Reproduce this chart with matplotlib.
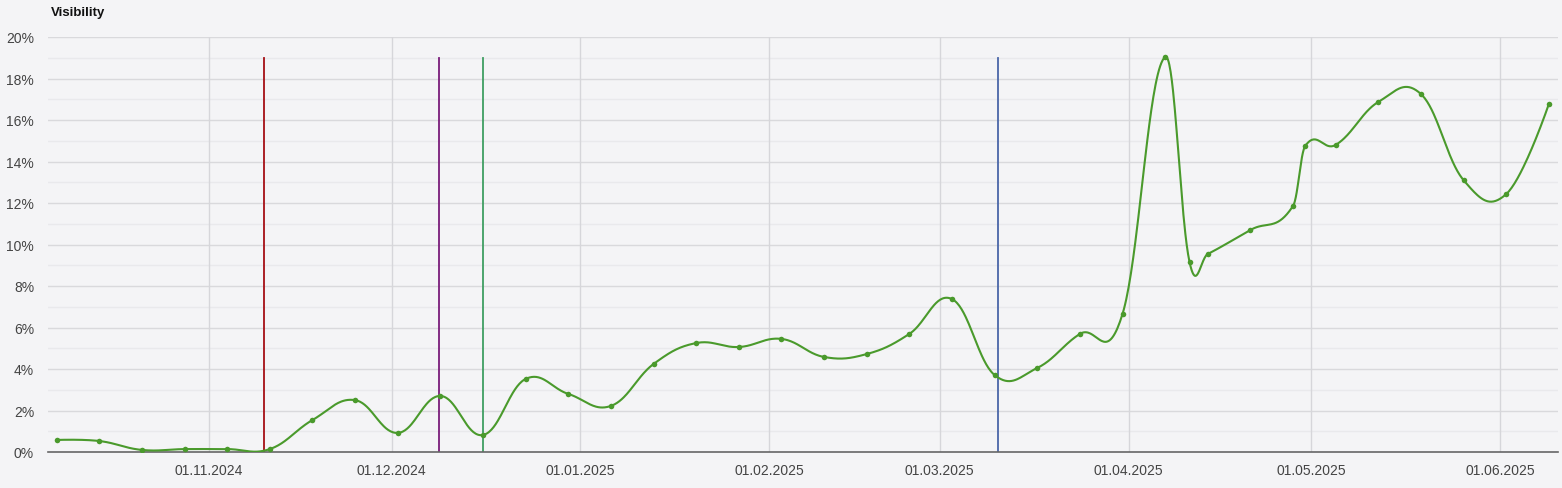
import numpy as np
import matplotlib
matplotlib.use("Agg")
import matplotlib.pyplot as plt
import matplotlib.dates as mdates
from datetime import datetime

dates = ["2024-10-07", "2024-10-14", "2024-10-21", "2024-10-28", "2024-11-04", "2024-11-11",
         "2024-11-18", "2024-11-25", "2024-12-02", "2024-12-09", "2024-12-16", "2024-12-23",
         "2024-12-30", "2025-01-06", "2025-01-13", "2025-01-20", "2025-01-27", "2025-02-03",
         "2025-02-10", "2025-02-17", "2025-02-24", "2025-03-03", "2025-03-10", "2025-03-17",
         "2025-03-24", "2025-03-31", "2025-04-07", "2025-04-11", "2025-04-14", "2025-04-21",
         "2025-04-28", "2025-04-30", "2025-05-05", "2025-05-12", "2025-05-19", "2025-05-26",
         "2025-06-02", "2025-06-09"]
visibility = [0.58, 0.53, 0.10, 0.14, 0.14, 0.14,
              1.54, 2.50, 0.92, 2.70, 0.82, 3.52,
              2.80, 2.22, 4.24, 5.25, 5.06, 5.45,
              4.58, 4.72, 5.69, 7.37, 3.71, 4.05,
              5.69, 6.65, 19.04, 9.16, 9.54, 10.70,
              11.86, 14.75, 14.80, 16.87, 17.25, 13.10,
              12.43, 16.77]
event_dates = ["2024-11-10 00:00", "2024-12-08 20:00", "2024-12-16 00:00", "2025-03-10 12:00"]
event_colors = ["#a50f15", "#7a1c7a", "#3f9e62", "#4a66a8"]
event_height = 19.0
month_ticks = ["2024-11-01", "2024-12-01", "2025-01-01", "2025-02-01", "2025-03-01",
               "2025-04-01", "2025-05-01", "2025-06-01"]

x = mdates.date2num([datetime.strptime(d, "%Y-%m-%d") for d in dates])
y = np.array(visibility)


def cardinal_spline(xs, ys, smoothing=1.5, n=40):
    px, py = [], []
    N = len(xs)
    ctrl = []
    for i in range(N):
        if i == 0 or i == N - 1:
            ctrl.append(None)
            continue
        lx, ly = xs[i - 1], ys[i - 1]
        nx, ny = xs[i + 1], ys[i + 1]
        X, Y = xs[i], ys[i]
        d = smoothing + 1
        lcx = (smoothing * X + lx) / d
        lcy = (smoothing * Y + ly) / d
        rcx = (smoothing * X + nx) / d
        rcy = (smoothing * Y + ny) / d
        if rcx != lcx:
            corr = ((rcy - lcy) * (rcx - X)) / (rcx - lcx) + Y - rcy
            lcy += corr
            rcy += corr
        ctrl.append(((lcx, lcy), (rcx, rcy)))
    t = np.linspace(0, 1, n)
    for i in range(N - 1):
        p0 = np.array([xs[i], ys[i]])
        p3 = np.array([xs[i + 1], ys[i + 1]])
        p1 = np.array(ctrl[i][1]) if ctrl[i] else p0
        p2 = np.array(ctrl[i + 1][0]) if ctrl[i + 1] else p3
        b = ((1 - t) ** 3)[:, None] * p0 + (3 * (1 - t) ** 2 * t)[:, None] * p1 \
            + (3 * (1 - t) * t ** 2)[:, None] * p2 + (t ** 3)[:, None] * p3
        px.extend(b[:, 0])
        py.extend(b[:, 1])
    return np.array(px), np.array(py)


plt.rcParams['font.family'] = ['Liberation Sans', 'DejaVu Sans']
fig = plt.figure(figsize=(15.62, 4.89), dpi=100)
bg = "#f4f4f6"
fig.patch.set_facecolor(bg)
ax = fig.add_axes([48 / 1562, 36 / 489, (1558 - 48) / 1562, (453 - 38) / 489])
ax.set_facecolor(bg)

xmin = mdates.date2num(datetime(2024, 10, 5, 14))
xmax = mdates.date2num(datetime(2025, 6, 10, 12))
ax.set_xlim(xmin, xmax)
ax.set_ylim(0, 20)

# grid
for v in np.arange(1, 20, 2):
    ax.axhline(v, color="#e9e9ec", lw=1.0, zorder=0)
for v in np.arange(2, 21, 2):
    ax.axhline(v, color="#d9d9dc", lw=1.0, zorder=0)
mt = mdates.date2num([datetime.strptime(d, "%Y-%m-%d") for d in month_ticks])
for m in mt:
    ax.axvline(m, color="#d6d6da", lw=1.0, zorder=0)

for spine in ["top", "right", "left"]:
    ax.spines[spine].set_visible(False)
ax.spines["bottom"].set_color("#666666")
ax.spines["bottom"].set_linewidth(1.2)

ax.set_yticks(np.arange(0, 21, 2))
ax.set_yticklabels([f"{v}%" for v in range(0, 21, 2)])
ax.set_xticks(mt)
ax.set_xticklabels([datetime.strptime(d, "%Y-%m-%d").strftime("%d.%m.%Y") for d in month_ticks])
ax.tick_params(axis="y", length=0, pad=10, labelsize=10, labelcolor="#444444")
ax.tick_params(axis="x", length=0, pad=8, labelsize=10, labelcolor="#444444")

# event lines
ed = mdates.date2num([datetime.strptime(d, "%Y-%m-%d %H:%M") for d in event_dates])
for e, c in zip(ed, event_colors):
    ax.plot([e, e], [0, event_height], color=c, lw=1.3, zorder=2)

sx, sy = cardinal_spline(x, y)
ax.plot(sx, sy, color="#4a9a2c", lw=1.5, zorder=3, solid_capstyle="round")
ax.scatter(x, y, s=16, color="#4a9a2c", zorder=4, linewidths=0)

fig.text(51 / 1562, 1 - 13 / 489, "Visibility", fontsize=9.5, fontweight="bold",
         va="center", ha="left", color="#111111")

fig.savefig("out.png", dpi=100, facecolor=bg)
